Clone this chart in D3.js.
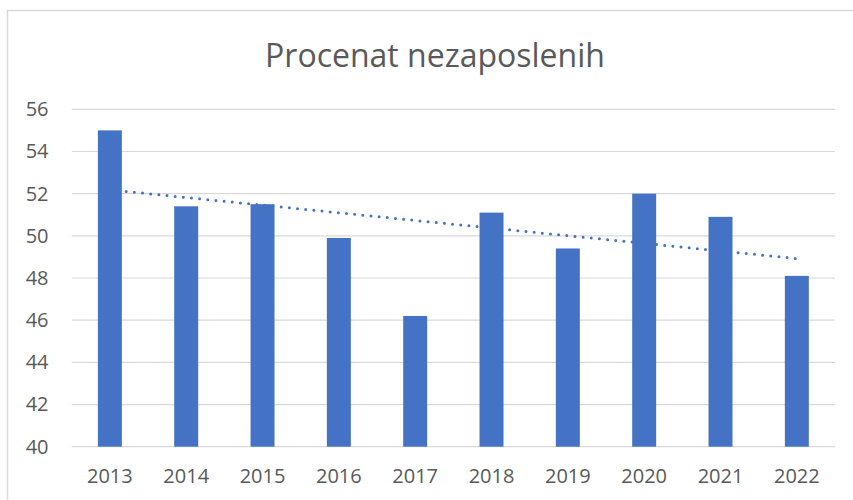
<!DOCTYPE html>
<html lang="sr">
<head>
    <meta charset="utf-8">
    <script src="https://d3js.org/d3.v7.min.js"></script>
</head>
<style>
    body { margin: 0; background: #fff; }
    text { font-family: "Open Sans", sans-serif; fill: #595959; }
</style>
<body>
<script>
    // data
    const years = ["2013", "2014", "2015", "2016", "2017", "2018", "2019", "2020", "2021", "2022"]
    const values = [55.0, 51.4, 51.5, 49.9, 46.2, 51.1, 49.4, 52.0, 50.9, 48.1]
    // linear trendline, value at first and last year
    const trendEnds = [52.18, 48.92]
    const yTicks = [40, 42, 44, 46, 48, 50, 52, 54, 56]
    const title = "Procenat nezaposlenih"

    const w = 853
    const h = 500
    const blue = "#4472C4"
    const grid = "#d9d9d9"

    let svg = d3.select("body")
        .append("svg")
        .attr("width", w)
        .attr("height", h)

    // chart frame (runs off the right and bottom edges)
    svg.append("rect")
        .attr("x", 7.5)
        .attr("y", 10.5)
        .attr("width", 900)
        .attr("height", 600)
        .attr("fill", "none")
        .attr("stroke", grid)
        .attr("stroke-width", 1.5)

    const plotLeft = 71.7, plotRight = 835, plotTop = 109.3, plotBottom = 446.7

    let xScale = d3.scaleBand()
        .domain(years)
        .range([plotLeft, plotRight])
        .paddingInner(0.686)
        .paddingOuter(0.343)

    let yScale = d3.scaleLinear()
        .domain([40, 56])
        .range([plotBottom, plotTop])

    // gridlines
    svg.append("g")
        .selectAll("line")
        .data(yTicks)
        .join("line")
        .attr("x1", plotLeft)
        .attr("x2", plotRight)
        .attr("y1", d => yScale(d))
        .attr("y2", d => yScale(d))
        .attr("stroke", grid)
        .attr("stroke-width", 1.2)

    // y labels
    let yaxis = d3.axisLeft(yScale).tickValues(yTicks).tickSize(0).tickPadding(0)
    let yg = svg.append("g")
        .attr("transform", "translate(48.5,0)")
        .call(yaxis)
    yg.select(".domain").remove()
    yg.selectAll("text")
        .attr("font-size", "20px")
        .attr("fill", "#595959")
        .style("font-family", "'Open Sans', sans-serif")

    // x labels
    let xaxis = d3.axisBottom(xScale).tickSize(0).tickPadding(0)
    let xg = svg.append("g")
        .attr("transform", "translate(0," + (plotBottom + 22) + ")")
        .call(xaxis)
    xg.select(".domain").remove()
    xg.selectAll("text")
        .attr("font-size", "20px")
        .attr("fill", "#595959")
        .style("font-family", "'Open Sans', sans-serif")

    // trendline behind the bars
    let xc = d => xScale(d) + xScale.bandwidth() / 2
    svg.append("line")
        .attr("x1", xc(years[0]))
        .attr("x2", xc(years[years.length - 1]))
        .attr("y1", yScale(trendEnds[0]))
        .attr("y2", yScale(trendEnds[1]))
        .attr("stroke", blue)
        .attr("stroke-width", 3)
        .attr("stroke-linecap", "round")
        .attr("stroke-dasharray", "0 8.2")

    // bars
    svg.append("g")
        .selectAll("rect")
        .data(values)
        .join("rect")
        .attr("x", (d, i) => xScale(years[i]))
        .attr("width", xScale.bandwidth())
        .attr("y", d => yScale(d))
        .attr("height", d => yScale(40) - yScale(d))
        .attr("fill", blue)

    // title
    svg.append("text")
        .attr("x", 435)
        .attr("y", 67)
        .attr("text-anchor", "middle")
        .attr("font-size", "32px")
        .text(title)
</script>
</body>
</html>
